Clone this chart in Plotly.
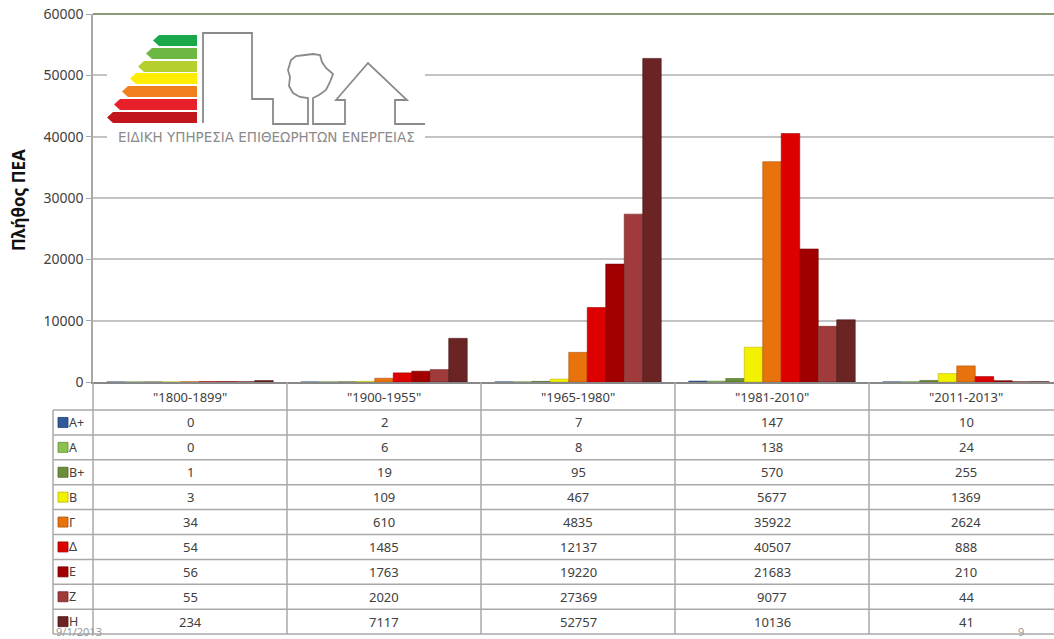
import plotly.graph_objects as go

# ---- data -------------------------------------------------------------
periods = ['"1800-1899"', '"1900-1955"', '"1965-1980"', '"1981-2010"', '"2011-2013"']
classes = ["A+", "A", "B+", "B", "Γ", "Δ", "E", "Z", "H"]

vals_Ap = [0, 2, 7, 147, 10]
vals_A = [0, 6, 8, 138, 24]
vals_Bp = [1, 19, 95, 570, 255]
vals_B = [3, 109, 467, 5677, 1369]
vals_G = [34, 610, 4835, 35922, 2624]
vals_D = [54, 1485, 12137, 40507, 888]
vals_E = [56, 1763, 19220, 21683, 210]
vals_Z = [55, 2020, 27369, 9077, 44]
vals_H = [234, 7117, 52757, 10136, 41]

series = [vals_Ap, vals_A, vals_Bp, vals_B, vals_G, vals_D, vals_E, vals_Z, vals_H]
colors = ["#2F5B9A", "#8CC152", "#6B8E3A", "#F2F200", "#E8720C",
          "#DD0000", "#A20000", "#A13A3A", "#6A2424"]
edge_colors = ["#1F3F70", "#5E8E30", "#4A6426", "#B8B800", "#B05206",
               "#A00000", "#700000", "#702626", "#481616"]

y_ticks = [0, 10000, 20000, 30000, 40000, 50000, 60000]

# ---- geometry of the page ---------------------------------------------
W, H = 1054, 639
L, R, T, B = 93, 1054, 14, 382          # plot area in pixels
CAT_PX = 194                            # width of one period column
x_range = [-0.5, -0.5 + (R - L) / CAT_PX]


def px(x):
    return (x - L) / (R - L)


def py(y):
    return (B - y) / (B - T)


def cat_x(i):
    return (i - x_range[0]) / (x_range[1] - x_range[0])


TEXT = "#404040"
GRID = "#C3C3C3"
FONT = "Noto Sans"

fig = go.Figure()
for name, vals, c, ec in zip(classes, series, colors, edge_colors):
    fig.add_trace(go.Bar(
        name=name, x=periods, y=vals,
        marker=dict(color=c, line=dict(color=ec, width=0.6)),
    ))

shapes = []
annotations = []


def label(x, y, text, size=13, color=TEXT, xanchor="center", family=FONT, **kw):
    annotations.append(dict(x=x, y=y, xref="paper", yref="paper", text=text,
                            showarrow=False, xanchor=xanchor, yanchor="middle",
                            font=dict(family=family, size=size, color=color), **kw))


# top border of the plot area
shapes.append(dict(type="line", xref="paper", yref="paper", x0=0, x1=1, y0=1, y1=1,
                   line=dict(color="#8C9A78", width=2)))

# ---- data table under the chart ----------------------------------------
row_h = 24.9
head_bottom = 410
rows_top = [head_bottom + k * row_h for k in range(len(classes))]
table_bottom = head_bottom + len(classes) * row_h
line_c = "#A8A8A8"

# horizontal lines
for k in range(len(classes) + 1):
    yy = head_bottom + k * row_h
    shapes.append(dict(type="line", xref="paper", yref="paper",
                       x0=px(53), x1=1, y0=py(yy), y1=py(yy),
                       line=dict(color=line_c, width=1.5)))
# vertical lines
for i in range(len(periods)):
    xx = cat_x(i - 0.5)
    shapes.append(dict(type="line", xref="paper", yref="paper",
                       x0=xx, x1=xx, y0=py(B), y1=py(table_bottom),
                       line=dict(color=line_c, width=1.5)))
shapes.append(dict(type="line", xref="paper", yref="paper",
                   x0=px(53), x1=px(53), y0=py(head_bottom), y1=py(table_bottom),
                   line=dict(color=line_c, width=1.5)))

# header labels
for i, p in enumerate(periods):
    label(cat_x(i), py((B + head_bottom) / 2 + 1), p)

# rows
for k, (name, vals, c, ec) in enumerate(zip(classes, series, colors, edge_colors)):
    yc = rows_top[k] + row_h / 2
    shapes.append(dict(type="rect", xref="paper", yref="paper",
                       x0=px(58), x1=px(68), y0=py(yc - 5), y1=py(yc + 5),
                       fillcolor=c, line=dict(color=ec, width=0.8)))
    label(px(68), py(yc), name, size=12.5, xanchor="left", borderpad=0)
    for i, v in enumerate(vals):
        label(cat_x(i), py(yc), str(v))

# ---- logo ----------------------------------------------------------------
shapes.append(dict(type="rect", xref="paper", yref="paper", x0=px(107), x1=px(425),
                   y0=py(146), y1=py(28), fillcolor="white", line=dict(width=0), layer="above"))

arrow_cols = ["#1AA84A", "#6DB842", "#B5CF2E", "#FFEC00", "#F07F1E", "#E8202A", "#C3161C"]
arrow_tops = [35, 48, 61, 73, 86, 99, 112]
arrow_tips = [153, 146, 138, 130, 122, 114, 107]
for col, top, tip in zip(arrow_cols, arrow_tops, arrow_tips):
    bot = top + 11
    mid = top + 5.5
    path = (f"M {px(tip)},{py(mid)} L {px(tip + 6)},{py(top)} L {px(197)},{py(top)} "
            f"L {px(197)},{py(bot)} L {px(tip + 6)},{py(bot)} Z")
    shapes.append(dict(type="path", xref="paper", yref="paper", path=path,
                       fillcolor=col, line=dict(width=0), layer="above"))

outline = [(203, 123), (203, 33), (252, 33), (252, 99), (273, 99), (273, 124), (308, 124),
           (308, 98), (300, 97), (293, 93), (289, 86), (290, 77), (288, 70), (291, 60),
           (296, 56), (305, 55), (313, 54), (320, 55), (322, 62), (326, 68), (333, 74),
           (330, 82), (326, 90), (319, 95), (313, 98), (313, 124), (345, 124), (345, 100),
           (336, 100), (368, 63), (407, 100), (395, 100), (395, 124), (425, 124)]
path = "M " + " L ".join(f"{px(a)},{py(b)}" for a, b in outline)
shapes.append(dict(type="path", xref="paper", yref="paper", path=path,
                   line=dict(color="#8A8A8A", width=1.8), layer="above"))

label(px(266), py(137), "ΕΙΔΙΚΗ ΥΠΗΡΕΣΙΑ ΕΠΙΘΕΩΡΗΤΩΝ ΕΝΕΡΓΕΙΑΣ", size=13.5,
      color="#8A8A8A", family="DejaVu Sans")

# ---- axis title and footer ------------------------------------------------
label(px(18), py(200), "<b>Πλήθος ΠΕΑ</b>", size=17, color="#111111", textangle=-90)
label(px(55), py(631), "9/1/2013", size=11, color="#9A9A9A", xanchor="left", borderpad=0)
label(px(1021), py(631), "9", size=11, color="#9A9A9A", borderpad=0)

fig.update_layout(
    width=W, height=H,
    margin=dict(l=L, r=W - R, t=T, b=H - B, pad=0),
    paper_bgcolor="white", plot_bgcolor="white",
    barmode="group", bargap=0.142, bargroupgap=0,
    showlegend=False,
    font=dict(family=FONT, color=TEXT),
    xaxis=dict(range=x_range, showticklabels=False, ticks="", showgrid=False,
               showline=True, linecolor="#888888", linewidth=2, zeroline=False, fixedrange=True),
    yaxis=dict(range=[0, 60000], tickvals=y_ticks, tickformat="d", showgrid=True,
               gridcolor=GRID, gridwidth=1.5,
               showline=True, linecolor="#A8A8A8", linewidth=1.5, ticks="outside", ticklen=5,
               tickcolor="#A8A8A8", zeroline=False, tickfont=dict(family=FONT, size=14, color=TEXT),
               fixedrange=True),
    shapes=shapes,
    annotations=annotations,
)

fig.write_html("out.html")
